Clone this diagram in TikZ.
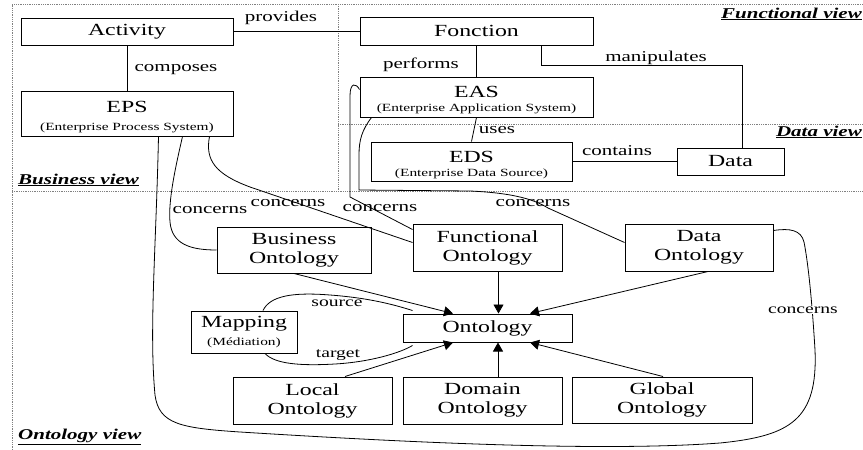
\documentclass[tikz,border=0pt]{standalone}
\usepackage{fontspec}
\setmainfont{Liberation Serif}[FakeStretch=1.4]
\usetikzlibrary{arrows.meta,calc}
\begin{document}
\begin{tikzpicture}[x=1pt,y=-1pt,
  box/.style={draw, line width=1pt, inner sep=0pt, align=center, font=\fontsize{17}{19}\selectfont},
  conn/.style={line width=0.8pt},
  arr/.style={conn, -{Triangle[length=9pt,width=10pt]}},
  lbl/.style={inner sep=0pt, font=\fontsize{15}{17}\selectfont},
  slbl/.style={inner sep=0pt, font=\fontsize{14}{16}\selectfont},
  view/.style={inner sep=0pt, font=\fontsize{15}{17}\selectfont\bfseries\itshape},
  sep/.style={draw=gray, densely dotted, line width=0.8pt}]
\useasboundingbox (0,0) rectangle (863,450);
% view separators
\draw[sep] (12,450) -- (12,4) -- (863,4);
\draw[sep] (338,4) -- (338,191);
\draw[sep] (12,191) -- (863,191);
\draw[sep] (338,124) -- (863,124);
% view labels
\node[view, anchor=west] (bv) at (18,180) {\underline{Business view}};
\node[view, anchor=east] (fv) at (862,14) {\underline{Functional view}};
\node[view, anchor=east] (dv) at (862,132) {\underline{Data view}};
\node[view, anchor=west] (ov) at (18,437) {\underline{Ontology view}};
% boxes
\node[box, minimum width=212pt, minimum height=27pt] (act) at (127,31.5) {Activity};
\node[box, minimum width=212pt, minimum height=45pt] (eps) at (127,113.5) {\rule{0pt}{18pt}EPS\\[-1pt]{\fontsize{11}{13}\selectfont (Enterprise Process System)}};
\node[box, minimum width=233pt, minimum height=28pt] (fon) at (476.5,31) {Fonction};
\node[box, minimum width=233pt, minimum height=40pt] (eas) at (476.5,97) {\rule{0pt}{18pt}EAS\\[-5pt]{\fontsize{11}{13}\selectfont (Enterprise Application System)}};
\node[box, minimum width=201pt, minimum height=39pt] (eds) at (471.5,161.5) {\rule{0pt}{18pt}EDS\\[-5pt]{\fontsize{11}{13}\selectfont (Enterprise Data Source)}};
\node[box, minimum width=107pt, minimum height=27pt] (data) at (730.5,161.5) {Data};
\node[box, minimum width=154pt, minimum height=46pt] (bont) at (294,250) {Business\\Ontology};
\node[box, minimum width=149pt, minimum height=47pt] (font) at (487.5,247.5) {Functional\\Ontology};
\node[box, minimum width=148pt, minimum height=47pt] (dont) at (699,247.5) {Data\\Ontology};
\node[box, minimum width=106pt, minimum height=42pt] (map) at (244,332) {Mapping\\[-1pt]{\fontsize{11}{13}\selectfont (Médiation)}};
\node[box, minimum width=169pt, minimum height=28pt] (ont) at (487.5,328) {Ontology};
\node[box, minimum width=159pt, minimum height=47pt] (lont) at (312.5,400.5) {Local\\Ontology};
\node[box, minimum width=159pt, minimum height=47pt] (doont) at (482.5,400.5) {Domain\\Ontology};
\node[box, minimum width=180pt, minimum height=46pt] (gont) at (662,400) {Global\\Ontology};
% top relations
\draw[conn] (act.east) -- (act.east -| fon.west);
\node[lbl] (lprov) at (281,18) {provides};
\draw[conn] (act.south) -- (eps.north);
\node[lbl] (lcomp) at (176,70) {composes};
\draw[conn] (fon.south) -- (eas.north);
\node[lbl] (lperf) at (421,65) {performs};
\draw[conn] ([xshift=64.5pt]fon.south) -- ++(0,20) -| ([xshift=11.5pt]data.north);
\node[lbl] (lmanip) at (656,58) {manipulates};
\draw[conn] (eas.south) -- (eds.north);
\node[lbl] (luses) at (497,130) {uses};
\draw[conn] (eds.east) -- (data.west);
\node[lbl] (lcont) at (617,151) {contains};
% concerns curves
\draw[conn] ([xshift=138pt]eps.south west) .. controls (156,250) and (149,330) .. (155,395)
  .. controls (159,424) and (180,428) .. (240,432)
  .. controls (400,442) and (600,452) .. (720,443)
  .. controls (790,436) and (818,420) .. (815,350)
  .. controls (812,300) and (808,262) .. (804,242)
  .. controls (801,230) and (790,228) .. ([yshift=-7pt]dont.north east);
\node[slbl, fill=white, inner sep=1pt] (lc5) at (803,310) {concerns};
\draw[conn] ([xshift=162pt]eps.south west) .. controls (176,165) and (168,200) .. (170,222)
  .. controls (172,244) and (190,250) .. (bont.west);
\node[lbl] (lc1) at (210,210) {concerns};
\draw[conn] ([xshift=189pt]eps.south west) .. controls (205,160) and (215,174) .. (250,187)
  -- ([yshift=-19pt]font.north west);
\node[lbl] (lc2) at (288,203) {concerns};
\draw[conn] ([yshift=-13pt]eas.north west) .. controls (356,83) and (350,82) .. (350,96)
  -- (350,197) -- ([yshift=-6pt]font.north west);
\node[lbl] (lc3) at (380,208) {concerns};
\draw[conn] ([xshift=12pt]eas.south west) .. controls (362,130) and (359,140) .. (359,155)
  -- (359,190) -- (470,191) .. controls (515,193) and (535,200) .. (548,208)
  -- ([yshift=-19pt]dont.north west);
\node[lbl] (lc4) at (533,203) {concerns};
% arrows into Ontology
\draw[arr] (bont.south) -- ([xshift=-34.5pt]ont.north);
\draw[arr] ([xshift=11pt]font.south) -- ([xshift=11pt]ont.north);
\draw[arr] ([xshift=9pt]dont.south) -- ([xshift=42.5pt]ont.north);
\draw[arr] ([xshift=32.5pt]lont.north) -- ([xshift=-34.5pt]ont.south);
\draw[arr] ([xshift=15.5pt]doont.north) -- ([xshift=10.5pt]ont.south);
\draw[arr] ([xshift=1pt]gont.north) -- ([xshift=42.5pt]ont.south);
% mapping
\draw[conn] ([xshift=19pt]map.north) .. controls (270,296) and (292,292) .. (330,295)
  .. controls (370,298) and (395,305) .. ([xshift=10pt,yshift=3pt]ont.north west);
\node[slbl] (lsrc) at (337,303) {source};
\draw[conn] ([xshift=21pt]map.south) .. controls (275,364) and (300,366) .. (335,364)
  .. controls (370,362) and (400,353) .. ([xshift=10pt,yshift=-3pt]ont.south west);
\node[slbl] (ltgt) at (338,355) {target};
\end{tikzpicture}
\end{document}
